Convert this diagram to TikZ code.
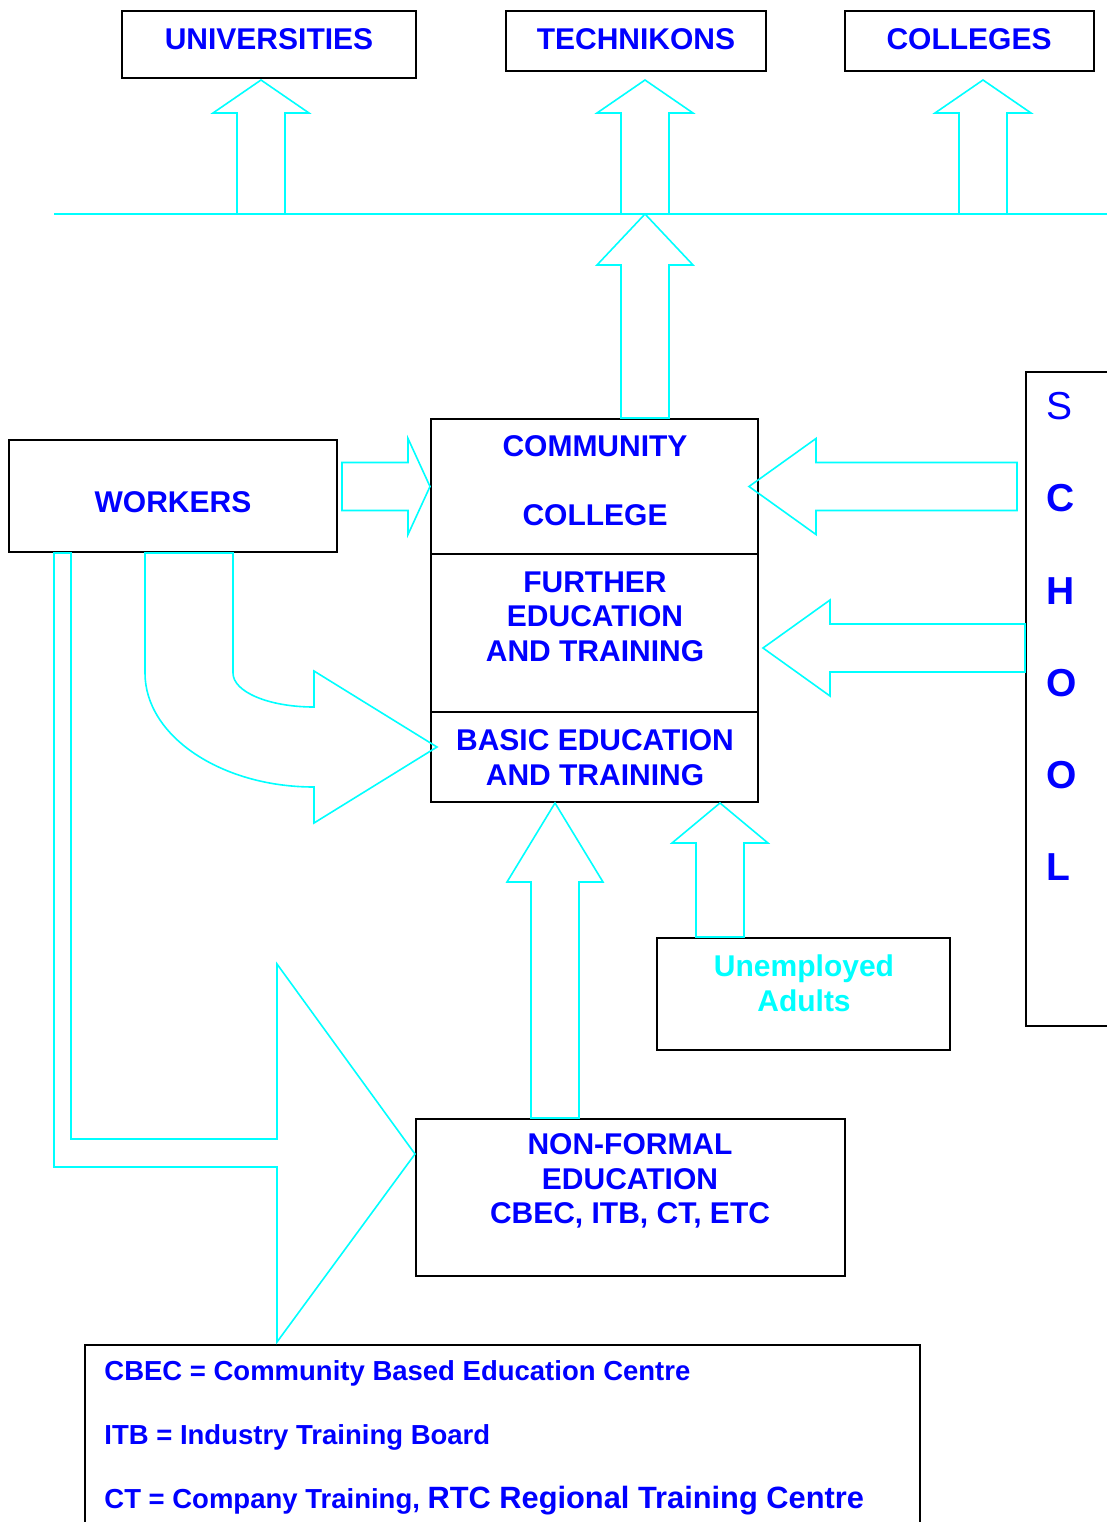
\documentclass[tikz,border=0pt]{standalone}
\usepackage{fontspec}
\setmainfont{Liberation Sans}
\usetikzlibrary{positioning,fit,calc}
\definecolor{aqua}{RGB}{0,255,255}
\definecolor{ink}{RGB}{0,0,255}
\tikzset{
  blockup/.style={
    to path={
      ($(\tikztostart)+(-24,0)$) -- ($(\tikztotarget)+(-24,#1)$) -- ++(-24,0)
      -- (\tikztotarget) -- ($(\tikztotarget)+(48,#1)$) -- ++(-24,0)
      -- ($(\tikztostart)+(24,0)$) -- cycle
    }
  },
  blockleft/.style={
    to path={
      ($(\tikztostart)+(0,-24)$) -- ($(\tikztotarget)+(#1,-24)$) -- ++(0,-24)
      -- (\tikztotarget) -- ($(\tikztotarget)+(#1,48)$) -- ++(0,-24)
      -- ($(\tikztostart)+(0,24)$) -- cycle
    }
  },
  blockright/.style={
    to path={
      ($(\tikztostart)+(0,-24)$) -- ($(\tikztotarget)+(-#1,-24)$) -- ++(0,-24)
      -- (\tikztotarget) -- ($(\tikztotarget)+(-#1,48)$) -- ++(0,-24)
      -- ($(\tikztostart)+(0,24)$) -- cycle
    }
  },
}

\begin{document}
\begin{tikzpicture}[
    x=0.5pt, y=-0.5pt,
    box/.style={draw=black, line width=1pt, inner sep=0pt},
    flow/.style={draw=aqua, line width=0.8pt},
    caps/.style={font=\bfseries\fontsize{15}{17.25}\selectfont, text=ink, align=center, inner sep=0pt},
    keyline/.style={font=\bfseries\fontsize{13.75}{16}\selectfont, text=ink, anchor=base west, inner sep=0pt}
  ]
    \useasboundingbox (0,0) rectangle (1107,1522);
    \clip (0,0) rectangle (1107,1522);

    % top row: where the community college leads
    \node (univ) [box, fit={(122,11) (416,78)}] {};
    \node (tech) [box, fit={(506,11) (766,71)}] {};
    \node (coll) [box, fit={(845,11) (1094,71)}] {};
    \node (univ-txt) [caps] at (269,39) {UNIVERSITIES};
    \node (tech-txt) [caps] at (636,39) {TECHNIKONS};
    \node (coll-txt) [caps] at (969,39) {COLLEGES};

    \coordinate (rail-w) at (54,214);
    \coordinate (rail-e) at (1107,214);
    \draw[aqua, line width=1pt] (rail-w) -- (rail-e);

    % the three bands of the community college
    \node (cc)  [box, fit={(431,419) (758,554)}] {};
    \node (fet) [box, fit={(431,554) (758,712)}] {};
    \node (bet) [box, fit={(431,712) (758,802)}] {};
    \node (cc-txt)  [caps] at (595,480.5) {COMMUNITY\\[17.25pt]COLLEGE};
    \node (fet-txt) [caps] at (595,616.5) {FURTHER\\EDUCATION\\AND TRAINING};
    \node (bet-txt) [caps] at (595,757.5) {BASIC EDUCATION\\AND TRAINING};

    \node (workers) [box, fit={(9,440) (337,552)}] {};
    \node (workers-txt) [caps] at (173,502) {WORKERS};

    \node (school) [box, fit={(1026,372) (1140,1026)}] {};
    \foreach \ch/\wt [count=\i] in {S/\mdseries, C/\bfseries, H/\bfseries, O/\bfseries, O/\bfseries, L/\bfseries}
      \node (school-\i) [font={\wt\fontsize{19.5}{20}\selectfont}, text=ink, anchor=west, inner sep=0pt]
        at (1046,{406+92.3*(\i-1)}) {\ch};

    \node (unemp) [box, fit={(657,938) (950,1050)}] {};
    \node (unemp-txt) [caps, text=aqua] at (804,983.5) {Unemployed\\Adults};

    \node (nfe) [box, fit={(416,1119) (845,1276)}] {};
    \node (nfe-txt) [caps] at (630,1181) {NON-FORMAL\\EDUCATION\\CBEC, ITB, CT, ETC};

    % key to the abbreviations
    \node (key) [box, fit={(85,1345) (920,1560)}] {};
    \node (key-cbec) [keyline] at (104,1380) {CBEC = Community Based Education Centre};
    \node (key-itb)  [keyline] at (104,1444) {ITB = Industry Training Board};
    \node (key-ct)   [keyline] at (104,1508.5) {CT = Company Training, {\fontsize{15.4}{18}\selectfont RTC Regional Training Centre}};

    % block arrows
    \foreach \x/\dest/\gap in {261/univ/1, 645/tech/8, 983/coll/8}
      \draw[flow] (rail-w -| \x,0) to[blockup=33] ($(\dest.south -| \x,0)+(0,\gap)$);
    \draw[flow] (cc.north -| 645,0) to[blockup=51] (rail-w -| 645,0);
    \draw[flow] ($(workers.east |- cc.west)+(4,0)$) to[blockright=22] (cc.west);
    \draw[flow] ($(school.west |- cc.west)+(-8,0)$) to[blockleft=67] ($(cc.east)+(-10,0)$);
    \draw[flow] (school.west |- 0,648) to[blockleft=67] ($(fet.east |- 0,648)+(4,0)$);
    \draw[flow] (nfe.north -| 555,0) to[blockup=79] (bet.south -| 555,0);
    \draw[flow] (unemp.north -| 720,0) to[blockup=40] (bet.south -| 720,0);

    \draw[flow] (workers.south -| 145,0) -- (145,673)
      .. controls (145,736) and (221,787) .. (314,787)
      -- (314,823) -- (437,747) -- (314,671) -- (314,707)
      .. controls (269,707) and (233,692) .. (233,673)
      -- (workers.south -| 233,0) -- cycle;
    \draw[flow] (workers.south -| 54,0) -- (54,1167) -- (277,1167) -- (277,1342)
      -- (nfe.west |- 0,1154) -- (277,964) -- (277,1139) -- (71,1139)
      -- (workers.south -| 71,0) -- cycle;
  \end{tikzpicture}
\end{document}
